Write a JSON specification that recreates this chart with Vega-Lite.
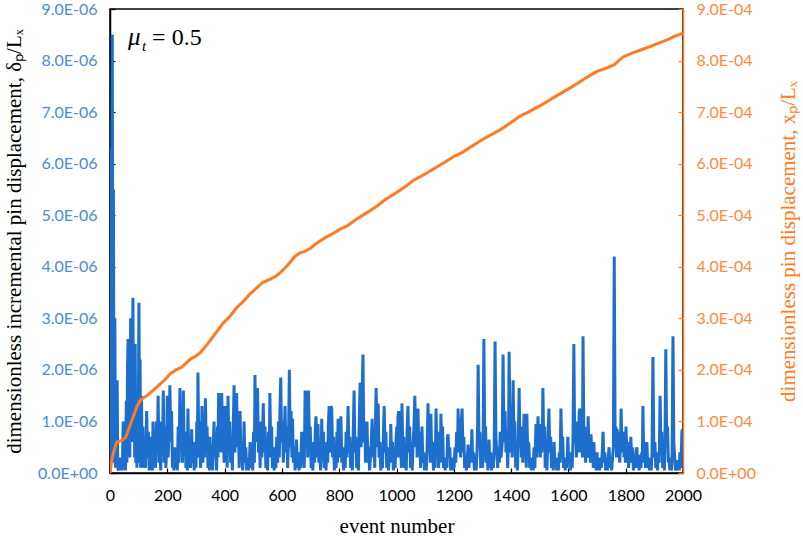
{
"$schema": "https://vega.github.io/schema/vega-lite/v6.json",
"width": 573,
"height": 464,
"autosize": {"type": "none"},
"padding": {"left": 110, "top": 9, "right": 120, "bottom": 66},
"background": "white",
"config": {"view": {"stroke": "black", "strokeWidth": 1.5}},
"datasets": {
"blue": [
{"event":0,"dp":0.05},{"event":2,"dp":6.3},{"event":4,"dp":0.3},{"event":6,"dp":5.5},{"event":8,"dp":8.5},{"event":10,"dp":1.0},{"event":12,"dp":5.5},{"event":14,"dp":0.2},{"event":17,"dp":3.0},{"event":19,"dp":0.1},{"event":21,"dp":1.8},{"event":23,"dp":0.2},{"event":25,"dp":1.8},{"event":27,"dp":0.1},{"event":30,"dp":0.05},{"event":34,"dp":0.3},{"event":37,"dp":0.05},{"event":40,"dp":0.2},{"event":43,"dp":0.05},{"event":46,"dp":1.0},{"event":48,"dp":0.1},{"event":51,"dp":0.5},{"event":54,"dp":0.05},{"event":57,"dp":1.4},{"event":59,"dp":0.2},{"event":61,"dp":2.0},{"event":63,"dp":2.6},{"event":65,"dp":0.5},{"event":67,"dp":2.1},{"event":69,"dp":0.3},{"event":72,"dp":3.0},{"event":74,"dp":1.0},{"event":76,"dp":2.7},{"event":78,"dp":0.6},{"event":80,"dp":3.4},{"event":82,"dp":1.5},{"event":84,"dp":2.5},{"event":86,"dp":0.3},{"event":88,"dp":2.5},{"event":90,"dp":0.2},{"event":92,"dp":1.3},{"event":94,"dp":0.1},{"event":96,"dp":0.8},{"event":98,"dp":0.2},{"event":101,"dp":3.3},{"event":103,"dp":0.8},{"event":105,"dp":2.2},{"event":107,"dp":0.1},{"event":110,"dp":1.5},{"event":112,"dp":0.3},{"event":115,"dp":0.9},{"event":117,"dp":0.1},{"event":120,"dp":0.6},
{"event":124,"dp":0.1},{"event":128,"dp":1.2},{"event":131,"dp":0.3},{"event":134,"dp":0.8},{"event":137,"dp":0.05},{"event":140,"dp":0.7},{"event":143,"dp":0.2},{"event":146,"dp":0.5},{"event":148,"dp":0.05},{"event":150,"dp":1.0},{"event":153,"dp":0.3},{"event":156,"dp":0.7},{"event":159,"dp":0.1},{"event":162,"dp":1.0},{"event":165,"dp":0.4},{"event":168,"dp":1.5},{"event":171,"dp":0.2},{"event":174,"dp":0.6},{"event":177,"dp":0.05},{"event":180,"dp":1.0},{"event":183,"dp":0.4},{"event":186,"dp":1.6},{"event":189,"dp":0.2},{"event":192,"dp":0.9},{"event":195,"dp":0.1},{"event":198,"dp":0.5},{"event":200,"dp":1.5},{"event":203,"dp":0.3},{"event":206,"dp":0.8},{"event":209,"dp":1.7},{"event":212,"dp":0.6},{"event":215,"dp":1.2},{"event":218,"dp":0.1},{"event":221,"dp":0.3},{"event":223,"dp":0.05},{"event":226,"dp":0.5},{"event":229,"dp":0.1},{"event":232,"dp":0.3},{"event":235,"dp":0.05},{"event":238,"dp":0.9},{"event":241,"dp":0.2},{"event":244,"dp":1.65},{"event":247,"dp":0.5},{"event":250,"dp":1.0},{"event":253,"dp":0.2},{"event":256,"dp":1.6},{"event":259,"dp":0.4},{"event":262,"dp":0.8},{"event":265,"dp":0.1},{"event":268,"dp":0.6},{"event":270,"dp":0.05},{"event":272,"dp":1.25},{"event":275,"dp":0.3},{"event":278,"dp":0.7},{"event":281,"dp":0.1},{"event":285,"dp":0.85},{"event":288,"dp":0.2},{"event":291,"dp":0.4},{"event":294,"dp":0.05},{"event":297,"dp":0.6},{"event":300,"dp":0.1},{"event":303,"dp":1.0},{"event":305,"dp":0.3},{"event":307,"dp":1.95},{"event":310,"dp":0.5},{"event":313,"dp":1.0},{"event":316,"dp":0.1},{"event":319,"dp":0.4},{"event":321,"dp":1.3},{"event":324,"dp":0.2},{"event":327,"dp":0.8},{"event":330,"dp":0.3},{"event":333,"dp":1.45},{"event":336,"dp":0.5},{"event":339,"dp":0.9},{"event":342,"dp":0.1},{"event":345,"dp":0.4},{"event":347,"dp":0.05},{"event":349,"dp":0.7},{"event":352,"dp":0.2},{"event":355,"dp":0.5},{"event":358,"dp":0.05},{"event":360,"dp":0.4},{"event":363,"dp":1.0},{"event":366,"dp":0.3},{"event":369,"dp":0.6},{"event":372,"dp":0.05},{"event":375,"dp":0.9},{"event":377,"dp":0.3},{"event":379,"dp":1.55},{"event":382,"dp":0.6},{"event":385,"dp":1.2},{"event":388,"dp":0.4},{"event":390,"dp":1.55},{"event":393,"dp":0.5},{"event":396,"dp":0.9},{"event":398,"dp":0.2},{"event":401,"dp":1.3},{"event":404,"dp":0.3},{"event":407,"dp":0.8},{"event":409,"dp":0.1},{"event":412,"dp":1.5},{"event":415,"dp":0.4},{"event":418,"dp":1.0},{"event":421,"dp":0.2},{"event":424,"dp":0.6},{"event":427,"dp":0.05},{"event":430,"dp":0.8},{"event":433,"dp":1.7},{"event":436,"dp":0.4},{"event":439,"dp":1.0},{"event":442,"dp":1.55},{"event":445,"dp":0.5},{"event":448,"dp":0.9},{"event":451,"dp":0.1},{"event":454,"dp":1.2},{"event":457,"dp":0.3},{"event":460,"dp":0.6},{"event":463,"dp":0.05},{"event":466,"dp":0.4},{"event":468,"dp":1.0},{"event":471,"dp":0.2},{"event":474,"dp":0.5},{"event":477,"dp":0.05},{"event":480,"dp":0.3},{"event":483,"dp":0.05},{"event":486,"dp":0.2},{"event":489,"dp":0.6},{"event":492,"dp":0.1},{"event":495,"dp":0.4},{"event":498,"dp":0.05},{"event":501,"dp":0.8},{"event":504,"dp":0.2},{"event":506,"dp":1.9},{"event":509,"dp":0.6},{"event":512,"dp":1.1},{"event":515,"dp":1.65},{"event":518,"dp":0.4},{"event":521,"dp":0.8},{"event":524,"dp":0.1},{"event":527,"dp":1.0},{"event":530,"dp":0.3},{"event":532,"dp":0.7},{"event":535,"dp":1.35},{"event":538,"dp":0.4},{"event":541,"dp":0.9},{"event":544,"dp":0.1},{"event":547,"dp":0.5},{"event":550,"dp":0.05},{"event":553,"dp":0.8},{"event":556,"dp":0.3},{"event":558,"dp":1.55},{"event":561,"dp":0.5},{"event":564,"dp":0.9},{"event":567,"dp":0.1},{"event":570,"dp":0.3},{"event":573,"dp":0.05},{"event":576,"dp":0.5},{"event":579,"dp":0.1},{"event":582,"dp":0.7},{"event":585,"dp":0.2},{"event":588,"dp":1.0},{"event":591,"dp":0.3},{"event":593,"dp":1.2},{"event":596,"dp":1.85},{"event":599,"dp":0.6},{"event":602,"dp":1.0},{"event":605,"dp":0.2},{"event":608,"dp":0.7},{"event":611,"dp":1.3},{"event":614,"dp":0.4},{"event":617,"dp":0.9},{"event":620,"dp":0.1},{"event":623,"dp":0.6},{"event":626,"dp":2.0},{"event":629,"dp":0.5},{"event":632,"dp":1.2},{"event":635,"dp":0.3},{"event":637,"dp":1.05},{"event":640,"dp":0.2},{"event":643,"dp":0.5},{"event":646,"dp":0.05},{"event":648,"dp":0.3},{"event":651,"dp":0.65},{"event":654,"dp":0.1},{"event":657,"dp":0.3},{"event":660,"dp":0.05},{"event":663,"dp":0.4},{"event":666,"dp":0.1},{"event":669,"dp":0.8},{"event":672,"dp":0.2},{"event":675,"dp":0.5},{"event":678,"dp":0.1},{"event":681,"dp":1.6},{"event":684,"dp":0.6},{"event":687,"dp":1.6},{"event":690,"dp":0.3},{"event":693,"dp":1.6},{"event":696,"dp":0.5},{"event":699,"dp":0.9},{"event":702,"dp":0.1},{"event":705,"dp":0.4},{"event":708,"dp":0.05},{"event":711,"dp":0.6},{"event":714,"dp":0.2},{"event":717,"dp":0.9},{"event":719,"dp":1.1},{"event":722,"dp":0.3},{"event":724,"dp":0.7},{"event":726,"dp":0.95},{"event":729,"dp":0.2},{"event":732,"dp":0.5},{"event":735,"dp":0.05},{"event":737,"dp":0.3},{"event":739,"dp":1.05},{"event":742,"dp":0.3},{"event":745,"dp":0.8},{"event":748,"dp":0.1},{"event":751,"dp":0.4},{"event":754,"dp":0.05},{"event":757,"dp":0.6},{"event":760,"dp":0.2},{"event":762,"dp":0.9},{"event":765,"dp":1.3},{"event":768,"dp":0.4},{"event":771,"dp":1.3},{"event":774,"dp":1.25},{"event":777,"dp":0.3},{"event":780,"dp":0.7},{"event":783,"dp":0.05},{"event":786,"dp":0.4},{"event":789,"dp":0.1},{"event":792,"dp":0.8},{"event":794,"dp":0.2},{"event":796,"dp":1.05},{"event":799,"dp":0.3},{"event":802,"dp":0.6},{"event":806,"dp":1.1},{"event":809,"dp":0.2},{"event":812,"dp":0.5},{"event":815,"dp":0.05},{"event":818,"dp":0.4},{"event":821,"dp":0.1},{"event":824,"dp":0.8},{"event":827,"dp":0.3},{"event":831,"dp":1.3},{"event":834,"dp":0.4},{"event":837,"dp":0.7},{"event":840,"dp":0.1},{"event":843,"dp":0.3},{"event":846,"dp":0.05},{"event":849,"dp":0.8},{"event":852,"dp":1.6},{"event":855,"dp":0.4},{"event":858,"dp":0.7},{"event":861,"dp":0.1},{"event":864,"dp":0.4},{"event":867,"dp":0.05},{"event":870,"dp":1.0},{"event":873,"dp":1.75},{"event":876,"dp":0.5},{"event":879,"dp":0.8},{"event":881,"dp":1.8},{"event":883,"dp":2.3},{"event":886,"dp":0.6},{"event":889,"dp":1.0},{"event":892,"dp":0.2},{"event":895,"dp":0.6},{"event":897,"dp":1.0},{"event":900,"dp":0.2},{"event":903,"dp":0.5},{"event":906,"dp":0.05},{"event":909,"dp":0.3},{"event":912,"dp":0.6},{"event":915,"dp":1.05},{"event":918,"dp":0.3},{"event":921,"dp":0.8},{"event":924,"dp":0.1},{"event":927,"dp":1.1},{"event":929,"dp":1.65},{"event":932,"dp":0.5},{"event":934,"dp":0.9},{"event":936,"dp":1.35},{"event":939,"dp":0.3},{"event":942,"dp":0.6},{"event":945,"dp":0.05},{"event":948,"dp":0.4},{"event":951,"dp":0.1},{"event":954,"dp":0.7},{"event":957,"dp":1.3},{"event":960,"dp":0.4},{"event":963,"dp":0.8},{"event":966,"dp":0.1},{"event":969,"dp":0.3},{"event":972,"dp":0.05},{"event":975,"dp":0.5},{"event":978,"dp":0.2},{"event":980,"dp":0.95},{"event":983,"dp":0.3},{"event":986,"dp":0.6},{"event":989,"dp":0.05},{"event":992,"dp":0.3},{"event":995,"dp":0.1},{"event":998,"dp":0.6},{"event":1001,"dp":0.9},{"event":1003,"dp":0.3},{"event":1005,"dp":1.1},{"event":1008,"dp":1.2},{"event":1011,"dp":0.3},{"event":1014,"dp":0.6},{"event":1017,"dp":0.1},{"event":1019,"dp":1.35},{"event":1022,"dp":0.4},{"event":1025,"dp":0.7},{"event":1028,"dp":0.1},{"event":1031,"dp":0.4},{"event":1034,"dp":0.05},{"event":1037,"dp":0.8},{"event":1040,"dp":1.3},{"event":1043,"dp":0.4},{"event":1046,"dp":0.9},{"event":1049,"dp":0.1},{"event":1052,"dp":0.5},{"event":1055,"dp":0.05},{"event":1058,"dp":0.6},{"event":1061,"dp":0.9},{"event":1064,"dp":1.5},{"event":1067,"dp":0.5},{"event":1070,"dp":1.1},{"event":1072,"dp":0.3},{"event":1075,"dp":1.25},{"event":1078,"dp":0.4},{"event":1081,"dp":0.8},{"event":1084,"dp":0.1},{"event":1086,"dp":0.4},{"event":1089,"dp":0.9},{"event":1092,"dp":0.2},{"event":1095,"dp":0.4},{"event":1098,"dp":0.05},{"event":1101,"dp":0.3},{"event":1104,"dp":0.05},{"event":1107,"dp":0.5},{"event":1110,"dp":1.35},{"event":1113,"dp":0.4},{"event":1116,"dp":0.8},{"event":1118,"dp":0.2},{"event":1120,"dp":1.15},{"event":1123,"dp":0.3},{"event":1126,"dp":0.6},{"event":1129,"dp":0.05},{"event":1132,"dp":0.4},{"event":1135,"dp":0.1},{"event":1138,"dp":1.25},{"event":1141,"dp":0.4},{"event":1144,"dp":0.8},{"event":1147,"dp":0.1},{"event":1150,"dp":0.5},{"event":1153,"dp":0.2},{"event":1155,"dp":1.15},{"event":1158,"dp":0.5},{"event":1161,"dp":0.9},{"event":1164,"dp":0.1},{"event":1167,"dp":0.3},{"event":1170,"dp":0.05},{"event":1173,"dp":0.3},{"event":1176,"dp":0.1},{"event":1178,"dp":0.7},{"event":1180,"dp":0.75},{"event":1183,"dp":0.3},{"event":1186,"dp":0.5},{"event":1189,"dp":0.05},{"event":1192,"dp":0.2},{"event":1195,"dp":0.05},{"event":1198,"dp":0.3},{"event":1201,"dp":0.1},{"event":1204,"dp":0.5},{"event":1207,"dp":0.2},{"event":1210,"dp":0.8},{"event":1213,"dp":0.4},{"event":1215,"dp":1.25},{"event":1218,"dp":0.4},{"event":1221,"dp":0.8},{"event":1224,"dp":0.3},{"event":1226,"dp":1.0},{"event":1229,"dp":1.25},{"event":1232,"dp":0.4},{"event":1235,"dp":0.7},{"event":1238,"dp":0.1},{"event":1241,"dp":0.3},{"event":1244,"dp":0.05},{"event":1247,"dp":0.3},{"event":1250,"dp":0.55},{"event":1253,"dp":0.1},{"event":1256,"dp":0.4},{"event":1260,"dp":0.2},{"event":1263,"dp":0.85},{"event":1266,"dp":0.2},{"event":1269,"dp":0.4},{"event":1272,"dp":0.05},{"event":1275,"dp":0.2},{"event":1278,"dp":0.05},{"event":1281,"dp":0.4},{"event":1283,"dp":0.9},{"event":1285,"dp":2.1},{"event":1288,"dp":0.5},{"event":1291,"dp":0.8},{"event":1294,"dp":0.1},{"event":1297,"dp":0.4},{"event":1300,"dp":0.1},{"event":1302,"dp":0.3},{"event":1305,"dp":2.6},{"event":1308,"dp":0.6},{"event":1311,"dp":0.9},{"event":1313,"dp":0.2},{"event":1316,"dp":0.5},{"event":1319,"dp":0.05},{"event":1321,"dp":0.3},{"event":1323,"dp":0.65},{"event":1326,"dp":0.1},{"event":1329,"dp":0.4},{"event":1332,"dp":0.05},{"event":1335,"dp":0.3},{"event":1338,"dp":0.1},{"event":1341,"dp":0.5},{"event":1344,"dp":2.55},{"event":1347,"dp":0.7},{"event":1350,"dp":0.4},{"event":1353,"dp":0.1},{"event":1356,"dp":0.5},{"event":1359,"dp":0.2},{"event":1362,"dp":0.8},{"event":1365,"dp":0.3},{"event":1369,"dp":0.6},{"event":1372,"dp":2.3},{"event":1375,"dp":0.6},{"event":1379,"dp":1.2},{"event":1382,"dp":0.4},{"event":1385,"dp":0.8},{"event":1388,"dp":0.1},{"event":1391,"dp":0.6},{"event":1393,"dp":2.35},{"event":1396,"dp":1.0},{"event":1398,"dp":0.4},{"event":1401,"dp":1.0},{"event":1404,"dp":0.3},{"event":1407,"dp":1.8},{"event":1410,"dp":0.6},{"event":1413,"dp":1.0},{"event":1416,"dp":0.1},{"event":1419,"dp":0.3},{"event":1422,"dp":0.05},{"event":1425,"dp":0.6},{"event":1428,"dp":1.65},{"event":1431,"dp":0.5},{"event":1434,"dp":0.9},{"event":1436,"dp":0.3},{"event":1438,"dp":0.85},{"event":1441,"dp":0.2},{"event":1443,"dp":0.5},{"event":1445,"dp":1.15},{"event":1448,"dp":0.3},{"event":1451,"dp":0.7},{"event":1453,"dp":0.1},{"event":1455,"dp":1.15},{"event":1458,"dp":0.4},{"event":1460,"dp":0.6},{"event":1462,"dp":0.55},{"event":1465,"dp":0.1},{"event":1468,"dp":0.3},{"event":1471,"dp":0.05},{"event":1474,"dp":0.2},{"event":1477,"dp":0.05},{"event":1480,"dp":0.5},{"event":1483,"dp":0.1},{"event":1485,"dp":0.6},{"event":1487,"dp":0.95},{"event":1490,"dp":0.3},{"event":1492,"dp":0.7},{"event":1494,"dp":1.1},{"event":1497,"dp":0.4},{"event":1500,"dp":0.8},{"event":1502,"dp":0.3},{"event":1504,"dp":0.95},{"event":1507,"dp":0.4},{"event":1509,"dp":0.7},{"event":1511,"dp":1.65},{"event":1514,"dp":0.5},{"event":1517,"dp":0.9},{"event":1519,"dp":0.1},{"event":1522,"dp":0.4},{"event":1525,"dp":0.05},{"event":1528,"dp":0.6},{"event":1532,"dp":1.25},{"event":1535,"dp":0.4},{"event":1538,"dp":0.7},{"event":1541,"dp":0.1},{"event":1544,"dp":0.3},{"event":1547,"dp":0.05},{"event":1550,"dp":0.6},{"event":1553,"dp":0.1},{"event":1556,"dp":0.3},{"event":1559,"dp":0.05},{"event":1562,"dp":0.2},{"event":1565,"dp":0.05},{"event":1568,"dp":0.4},{"event":1571,"dp":0.2},{"event":1574,"dp":1.25},{"event":1577,"dp":0.4},{"event":1580,"dp":0.7},{"event":1583,"dp":0.1},{"event":1586,"dp":0.3},{"event":1589,"dp":0.05},{"event":1592,"dp":0.3},{"event":1595,"dp":0.1},{"event":1598,"dp":0.7},{"event":1601,"dp":0.2},{"event":1604,"dp":0.4},{"event":1607,"dp":0.05},{"event":1610,"dp":0.3},{"event":1613,"dp":0.1},{"event":1616,"dp":0.6},{"event":1619,"dp":2.5},{"event":1622,"dp":0.6},{"event":1625,"dp":1.0},{"event":1628,"dp":0.3},{"event":1630,"dp":1.0},{"event":1633,"dp":0.4},{"event":1636,"dp":0.8},{"event":1638,"dp":1.2},{"event":1640,"dp":1.25},{"event":1643,"dp":0.4},{"event":1646,"dp":0.7},{"event":1649,"dp":0.3},{"event":1651,"dp":2.65},{"event":1654,"dp":0.7},{"event":1657,"dp":0.9},{"event":1660,"dp":0.2},{"event":1663,"dp":0.5},{"event":1666,"dp":0.3},{"event":1669,"dp":1.1},{"event":1672,"dp":0.4},{"event":1675,"dp":0.6},{"event":1677,"dp":0.2},{"event":1679,"dp":0.75},{"event":1682,"dp":0.2},{"event":1685,"dp":0.4},{"event":1687,"dp":0.1},{"event":1689,"dp":0.6},{"event":1692,"dp":0.1},{"event":1695,"dp":0.3},{"event":1697,"dp":0.05},{"event":1700,"dp":0.4},{"event":1703,"dp":0.05},{"event":1706,"dp":0.2},{"event":1709,"dp":0.05},{"event":1712,"dp":0.3},{"event":1715,"dp":0.1},{"event":1718,"dp":0.4},{"event":1721,"dp":0.8},{"event":1724,"dp":0.2},{"event":1727,"dp":0.4},{"event":1730,"dp":0.05},{"event":1733,"dp":0.2},{"event":1736,"dp":0.05},{"event":1739,"dp":0.3},{"event":1742,"dp":0.5},{"event":1745,"dp":0.1},{"event":1748,"dp":0.3},{"event":1751,"dp":0.05},{"event":1754,"dp":0.3},{"event":1757,"dp":0.5},{"event":1760,"dp":4.2},{"event":1763,"dp":0.7},{"event":1766,"dp":0.9},{"event":1768,"dp":0.3},{"event":1770,"dp":0.85},{"event":1773,"dp":0.4},{"event":1776,"dp":0.8},{"event":1779,"dp":0.2},{"event":1782,"dp":0.6},{"event":1784,"dp":1.25},{"event":1787,"dp":0.4},{"event":1789,"dp":0.6},{"event":1791,"dp":0.8},{"event":1794,"dp":0.3},{"event":1797,"dp":0.6},{"event":1799,"dp":0.2},{"event":1801,"dp":0.9},{"event":1804,"dp":0.3},{"event":1807,"dp":0.6},{"event":1810,"dp":0.1},{"event":1813,"dp":0.4},{"event":1815,"dp":0.2},{"event":1818,"dp":0.7},{"event":1821,"dp":0.2},{"event":1824,"dp":0.5},{"event":1827,"dp":0.05},{"event":1830,"dp":0.3},{"event":1833,"dp":0.1},{"event":1836,"dp":0.4},{"event":1839,"dp":0.5},{"event":1842,"dp":0.1},{"event":1845,"dp":0.2},{"event":1847,"dp":0.05},{"event":1850,"dp":0.35},{"event":1853,"dp":0.1},{"event":1856,"dp":0.4},{"event":1858,"dp":0.2},{"event":1860,"dp":1.3},{"event":1863,"dp":0.3},{"event":1866,"dp":0.6},{"event":1869,"dp":0.1},{"event":1872,"dp":0.3},{"event":1874,"dp":0.6},{"event":1877,"dp":0.1},{"event":1880,"dp":0.3},{"event":1883,"dp":0.05},{"event":1886,"dp":0.2},{"event":1889,"dp":0.05},{"event":1892,"dp":0.4},{"event":1895,"dp":2.25},{"event":1898,"dp":0.6},{"event":1900,"dp":0.3},{"event":1902,"dp":0.6},{"event":1905,"dp":0.1},{"event":1908,"dp":0.3},{"event":1911,"dp":0.05},{"event":1914,"dp":0.4},{"event":1917,"dp":0.2},{"event":1920,"dp":1.5},{"event":1923,"dp":0.4},{"event":1926,"dp":0.8},{"event":1929,"dp":0.1},{"event":1932,"dp":0.4},{"event":1935,"dp":0.05},{"event":1937,"dp":0.5},{"event":1940,"dp":2.4},{"event":1943,"dp":0.6},{"event":1946,"dp":0.9},{"event":1949,"dp":0.2},{"event":1951,"dp":0.3},{"event":1954,"dp":0.05},{"event":1957,"dp":0.2},{"event":1960,"dp":0.05},{"event":1962,"dp":0.4},{"event":1965,"dp":2.65},{"event":1968,"dp":0.6},{"event":1971,"dp":0.3},{"event":1974,"dp":0.05},{"event":1977,"dp":0.1},{"event":1979,"dp":0.25},{"event":1982,"dp":0.05},{"event":1985,"dp":0.2},{"event":1987,"dp":0.05},{"event":1989,"dp":0.4},{"event":1992,"dp":0.1},{"event":1994,"dp":0.3},{"event":1996,"dp":0.8},{"event":1999,"dp":0.85}
],
"orange": [
{"event":0,"xp":0},{"event":5,"xp":0.2},{"event":10,"xp":0.35},{"event":15,"xp":0.45},{"event":20,"xp":0.55},{"event":25,"xp":0.6},{"event":35,"xp":0.62},{"event":45,"xp":0.64},{"event":55,"xp":0.7},{"event":65,"xp":0.85},{"event":75,"xp":1.0},{"event":85,"xp":1.15},{"event":95,"xp":1.3},{"event":105,"xp":1.4},{"event":115,"xp":1.45},{"event":129,"xp":1.5},{"event":150,"xp":1.6},{"event":170,"xp":1.7},{"event":190,"xp":1.8},{"event":209,"xp":1.92},{"event":230,"xp":2.0},{"event":250,"xp":2.05},{"event":279,"xp":2.2},{"event":300,"xp":2.27},{"event":314,"xp":2.33},{"event":340,"xp":2.5},{"event":370,"xp":2.72},{"event":394,"xp":2.9},{"event":420,"xp":3.05},{"event":444,"xp":3.22},{"event":464,"xp":3.32},{"event":490,"xp":3.48},{"event":510,"xp":3.58},{"event":534,"xp":3.7},{"event":560,"xp":3.76},{"event":580,"xp":3.82},{"event":593,"xp":3.88},{"event":620,"xp":4.03},{"event":645,"xp":4.2},{"event":663,"xp":4.27},{"event":680,"xp":4.3},{"event":700,"xp":4.36},{"event":720,"xp":4.45},{"event":750,"xp":4.56},{"event":780,"xp":4.65},{"event":800,"xp":4.72},{"event":830,"xp":4.8},{"event":860,"xp":4.92},{"event":900,"xp":5.06},{"event":930,"xp":5.17},{"event":960,"xp":5.3},{"event":1000,"xp":5.44},{"event":1030,"xp":5.55},{"event":1060,"xp":5.68},{"event":1100,"xp":5.8},{"event":1130,"xp":5.9},{"event":1160,"xp":6.0},{"event":1200,"xp":6.14},{"event":1230,"xp":6.22},{"event":1260,"xp":6.33},{"event":1300,"xp":6.47},{"event":1330,"xp":6.56},{"event":1360,"xp":6.65},{"event":1400,"xp":6.8},{"event":1430,"xp":6.92},{"event":1460,"xp":7.0},{"event":1500,"xp":7.12},{"event":1530,"xp":7.22},{"event":1560,"xp":7.32},{"event":1600,"xp":7.45},{"event":1630,"xp":7.55},{"event":1660,"xp":7.66},{"event":1700,"xp":7.79},{"event":1730,"xp":7.85},{"event":1760,"xp":7.92},{"event":1791,"xp":8.07},{"event":1820,"xp":8.14},{"event":1850,"xp":8.2},{"event":1885,"xp":8.27},{"event":1910,"xp":8.33},{"event":1944,"xp":8.4},{"event":1970,"xp":8.47},{"event":2000,"xp":8.53}
],
"noteItalic": [
{"event":63,"dp":8.3,"label":"μ","fs":25},{"event":112,"dp":8.18,"label":"t","fs":15}
],
"noteRoman": [
{"event":147,"dp":8.3,"label":"= 0.5"}
]
},
"layer": [
{
"data": {"name": "blue"},
"mark": {"type": "line", "color": "#1E6FCD", "strokeWidth": 3, "clip": true},
"encoding": {
"x": {"field": "event", "type": "quantitative", "scale": {"domain": [0, 2000], "nice": false},
"axis": {"values": [0,200,400,600,800,1000,1200,1400,1600,1800,2000], "format": "d", "labelOverlap": false, "labelFlush": false, "grid": false, "labelFont": "Lato", "labelFontSize": 16, "labelColor": "black", "tickColor": "black", "tickSize": -5, "tickWidth": 1.2, "domainColor": "black", "domainWidth": 1.5, "labelPadding": 19, "title": "event number", "titleFont": "Liberation Serif", "titleFontSize": 21, "titleFontWeight": "normal", "titleColor": "black", "titleBaseline": "middle", "titleY": 53}},
"y": {"field": "dp", "type": "quantitative", "scale": {"domain": [0, 9], "nice": false},
"axis": {"values": [0,1,2,3,4,5,6,7,8,9], "labelFlush": false, "grid": false, "labelExpr": "datum.value == 0 ? '0.0E+00' : format(datum.value, '.1f') + 'E-06'", "labelFont": "Lato", "labelFontSize": 16, "labelColor": "#4A8BDA", "tickColor": "black", "tickSize": -5, "tickWidth": 1.2, "domainColor": "black", "domainWidth": 1.5, "labelPadding": 18, "title": "dimensionless incremental pin displacement,  δₚ/Lₓ", "titleFont": "Liberation Serif", "titleFontSize": 21, "titleFontWeight": "normal", "titleColor": "black", "titleAngle": 270, "titleBaseline": "middle", "titleAlign": "center", "titleX": -96, "titleY": 232}}
}
},
{
"data": {"name": "noteItalic"},
"mark": {"type": "text", "font": "Liberation Serif", "fontStyle": "italic", "align": "left", "baseline": "alphabetic", "color": "black"},
"encoding": {
"x": {"field": "event", "type": "quantitative", "scale": {"domain": [0, 2000], "nice": false}},
"y": {"field": "dp", "type": "quantitative", "scale": {"domain": [0, 9], "nice": false}, "axis": null},
"size": {"field": "fs", "type": "quantitative", "scale": null},
"text": {"field": "label"}
}
},
{
"data": {"name": "noteRoman"},
"mark": {"type": "text", "font": "Liberation Serif", "fontSize": 24, "align": "left", "baseline": "alphabetic", "color": "black"},
"encoding": {
"x": {"field": "event", "type": "quantitative", "scale": {"domain": [0, 2000], "nice": false}},
"y": {"field": "dp", "type": "quantitative", "scale": {"domain": [0, 9], "nice": false}, "axis": null},
"text": {"field": "label"}
}
},
{
"data": {"name": "orange"},
"mark": {"type": "line", "color": "#FF7A21", "strokeWidth": 3, "clip": true},
"encoding": {
"x": {"field": "event", "type": "quantitative", "scale": {"domain": [0, 2000], "nice": false}},
"y": {"field": "xp", "type": "quantitative", "scale": {"domain": [0, 9], "nice": false},
"axis": {"orient": "right", "values": [0,1,2,3,4,5,6,7,8,9], "labelFlush": false, "grid": false, "labelExpr": "datum.value == 0 ? '0.0E+00' : format(datum.value, '.1f') + 'E-04'", "labelFont": "Lato", "labelFontSize": 16, "labelColor": "#FF8A3D", "tickColor": "#FF7A21", "tickSize": -5, "tickWidth": 1.2, "domainColor": "#FF7A21", "domainWidth": 1.5, "labelPadding": 18, "title": "dimensionless pin displacement,  xₚ/Lₓ", "titleFont": "Liberation Serif", "titleFontSize": 21, "titleFontWeight": "normal", "titleColor": "#FF7A21", "titleAngle": 270, "titleBaseline": "middle", "titleAlign": "center", "titleX": 105, "titleY": 232}}
}
}
],
"resolve": {"scale": {"y": "independent"}}
}
